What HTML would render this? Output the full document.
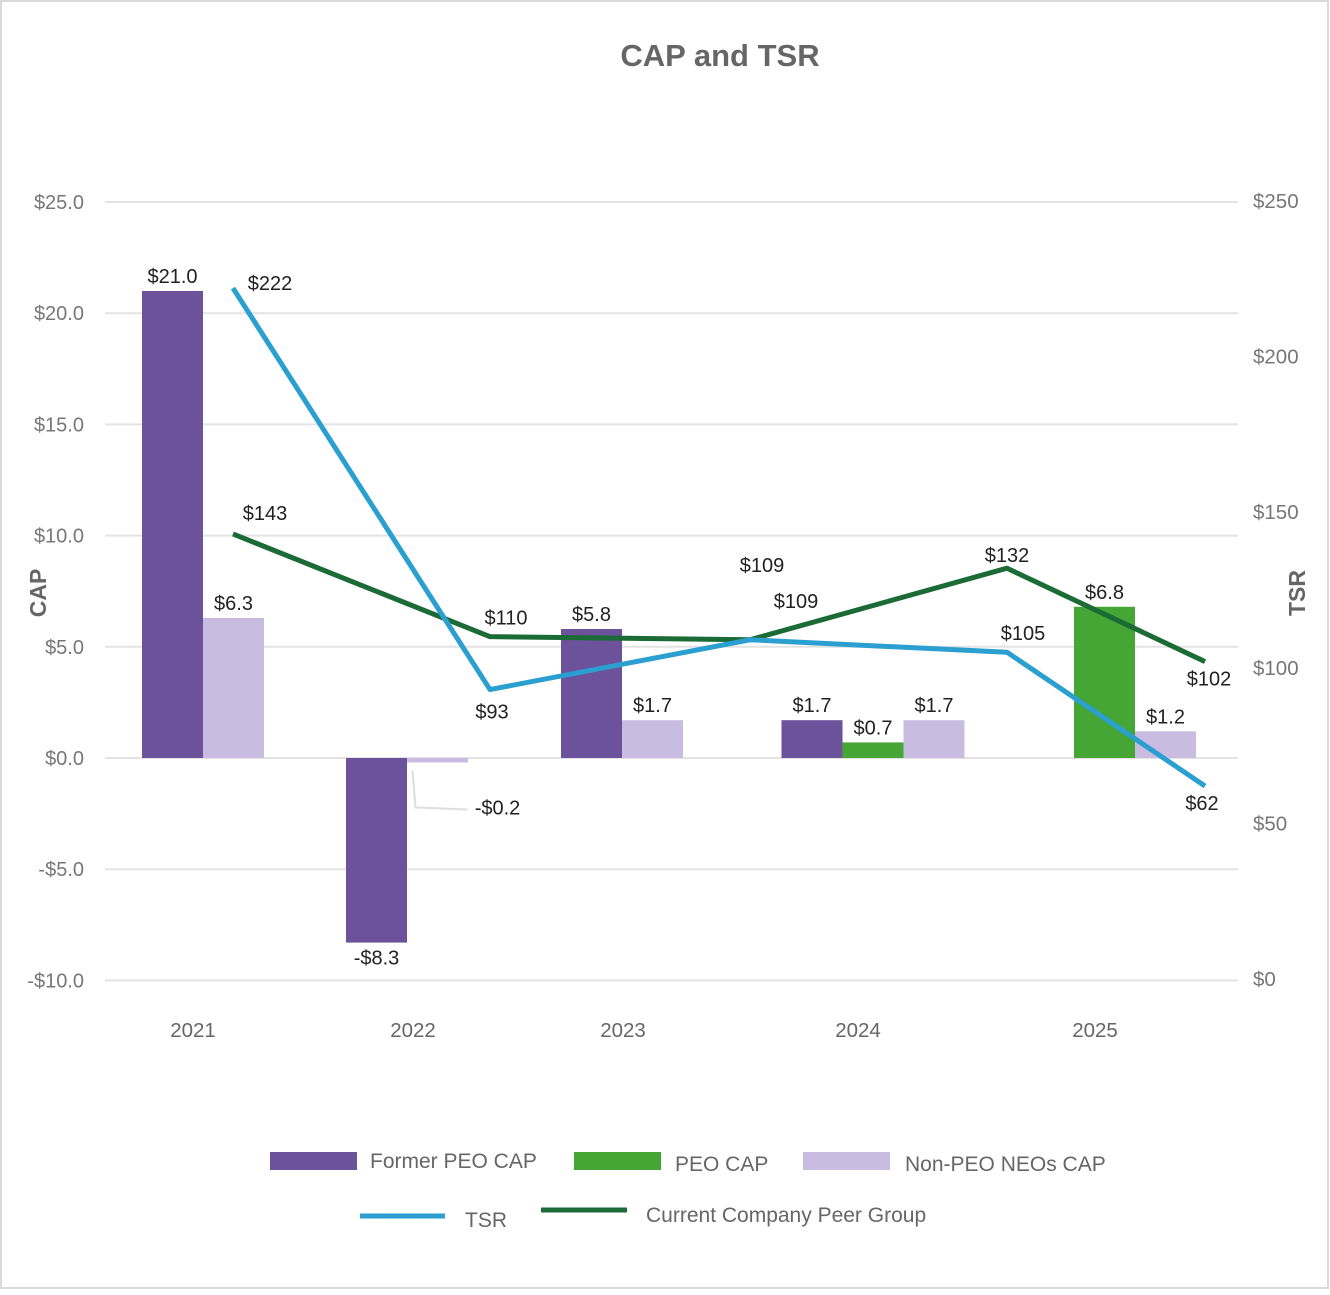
<!DOCTYPE html>
<html><head><meta charset="utf-8"><style>
body{margin:0;background:#fff;font-family:"Liberation Sans",sans-serif}
svg text{font-family:"Liberation Sans",sans-serif}
</style></head><body>
<svg id="c" width="1330" height="1290" xmlns="http://www.w3.org/2000/svg">
<rect x="1" y="1" width="1327" height="1287" fill="#fff" stroke="#d9d9d9" stroke-width="2"/>
<text x="720" y="66" text-anchor="middle" font-size="31" font-weight="bold" fill="#666">CAP and TSR</text>
<text transform="translate(46,593) rotate(-90)" text-anchor="middle" font-size="23" font-weight="bold" fill="#666">CAP</text>
<text transform="translate(1305,593) rotate(-90)" text-anchor="middle" font-size="23" font-weight="bold" fill="#666">TSR</text>
<g id="grid"></g><g id="bars"></g><g id="lines"></g><g id="labels"></g>
<g font-size="21" fill="#666">
<rect x="270" y="1152" width="87" height="18" fill="#6b529b"/>
<text x="370" y="1168">Former PEO CAP</text>
<rect x="574" y="1152" width="87" height="18" fill="#45a535"/>
<text x="675" y="1171">PEO CAP</text>
<rect x="803" y="1152" width="87" height="18" fill="#c8bde0"/>
<text x="905" y="1171">Non-PEO NEOs CAP</text>
<line x1="360" y1="1216" x2="445" y2="1216" stroke="#2a9fd0" stroke-width="5"/>
<text x="465" y="1227">TSR</text>
<line x1="541" y1="1210" x2="627" y2="1210" stroke="#1a6b35" stroke-width="5"/>
<text x="646" y="1222">Current Company Peer Group</text>
</g>
</svg>
<script>
const categories=["2021","2022","2023","2024","2025"];
const formerPeo=[21.0,-8.3,5.8,1.7,null];
const peo=[null,null,null,0.7,6.8];
const nonPeo=[6.3,-0.2,1.7,1.7,1.2];
const tsr=[222,93,109,105,62];
const peer=[143,110,109,132,102];
const leftTicks=[25,20,15,10,5,0,-5,-10];
const rightTicks=[250,200,150,100,50,0];
const NS="http://www.w3.org/2000/svg";
function yL(v){return 758-v*22.24;}
function yR(v){return 979-v*3.112;}
function xC(i){return [193,413,623,858,1095][i];}
function xB(i){return [203,407,622,873,1135][i];}
function xP(i){return [233,490,750,1007,1205][i];}
function mk(t,a,p){const e=document.createElementNS(NS,t);for(const k in a)e.setAttribute(k,a[k]);p.appendChild(e);return e;}
const G=document.getElementById('grid'),B=document.getElementById('bars'),L=document.getElementById('lines'),T=document.getElementById('labels');
leftTicks.forEach(v=>{
 const l=mk('line',{x1:105,x2:1238,y1:yL(v),y2:yL(v),stroke:'#e3e3e3','stroke-width':2},G);
 
 
 const t=mk('text',{x:84,y:yL(v)+7,'text-anchor':'end','font-size':20,fill:'#777'},G);
 t.textContent=(v<0?'-$':'$')+Math.abs(v).toFixed(1);
 
 
});
rightTicks.forEach(v=>{
 const t=mk('text',{x:1253,y:yR(v)+7,'font-size':20.5,fill:'#777'},G);
 t.textContent='$'+v;
 
 
});
categories.forEach((c,i)=>{
 const t=mk('text',{x:xC(i),y:1037,'text-anchor':'middle','font-size':20.5,fill:'#666'},G);
 t.textContent=c;
 
 
 const series=[[formerPeo,'#6b529b','bar-former-peo'],[peo,'#45a535','bar-peo'],[nonPeo,'#c8bde0','bar-non-peo']].filter(s=>s[0][i]!==null);
 const w=61,x0=xB(i)-series.length*w/2;
 series.forEach((s,j)=>{
  const v=s[0][i],y1=yL(Math.max(v,0)),y2=yL(Math.min(v,0));
  const r=mk('rect',{x:x0+j*w,y:y1,width:w,height:Math.max(y2-y1,1),fill:s[1]},B);
  
  
  const neg=v<0;
  let lx=x0+j*w+w/2,ly=neg?y2+22:y1-8;
  if(neg&&Math.abs(v)<1){lx+=60;ly=y2+52;mk('polyline',{points:(x0+j*w+w/2-25)+','+(y2+8)+' '+(x0+j*w+w/2-22)+','+(y2+45)+' '+(lx-30)+','+(y2+47),fill:'none',stroke:'#ddd','stroke-width':2},T);}
  const t=mk('text',{x:lx,y:ly,'text-anchor':'middle','font-size':20,fill:'#222'},T);
  t.textContent=(neg?'-$':'$')+Math.abs(v).toFixed(1);
  
  
 });
});
function line(vals,col,name,offs){
 const p=mk('polyline',{points:vals.map((v,i)=>xP(i)+','+yR(v)).join(' '),fill:'none',stroke:col,'stroke-width':5,'stroke-linejoin':'round'},L);
 
 
 vals.forEach((v,i)=>{
  const t=mk('text',{x:xP(i)+offs[i][0],y:yR(v)+offs[i][1],'text-anchor':'middle','font-size':20,fill:'#222'},T);
  t.textContent='$'+v;
  
  
 });
}
line(peer,'#1a6b35','line-peer',[[32,-14],[16,-12],[12,-68],[0,-6],[4,24]]);
line(tsr,'#2a9fd0','line-tsr',[[37,2],[2,29],[46,-32],[16,-12],[-3,24]]);
</script>
</body></html>
